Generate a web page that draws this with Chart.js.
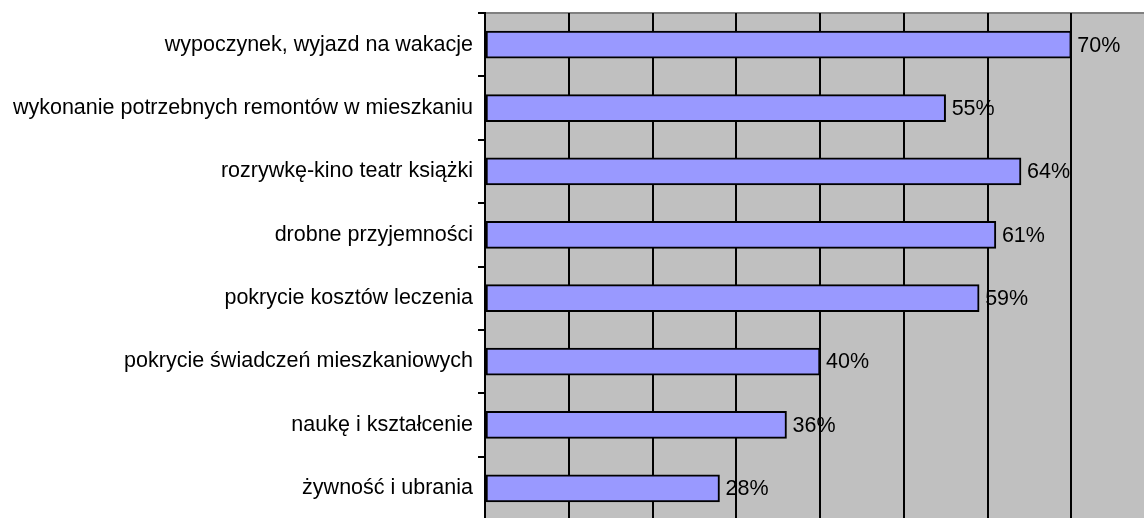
<!DOCTYPE html>
<html>
<head>
<meta charset="utf-8">
<script src="https://cdn.jsdelivr.net/npm/chart.js@4"></script>
<style>
html,body{margin:0;padding:0;background:#fff;overflow:hidden;}
canvas{display:block;}
</style>
</head>
<body>
<canvas id="chart" width="1160" height="525" style="width:1160px;height:525px"></canvas>
<script>
const categories = [
"wypoczynek, wyjazd na wakacje",
"wykonanie potrzebnych remontów w mieszkaniu",
"rozrywkę-kino teatr książki",
"drobne przyjemności",
"pokrycie kosztów leczenia",
"pokrycie świadczeń mieszkaniowych",
"naukę i kształcenie",
"żywność i ubrania"
];
const values = [70,55,64,61,59,40,36,28];
const xTicks = [0,10,20,30,40,50,60,70,80];

const FONT = "'Liberation Sans', Arial, sans-serif";

// gray plot background with thin border
const plotBg = {
id:"plotBg",
beforeDraw(chart){
const {ctx, chartArea:a} = chart;
ctx.save();
ctx.fillStyle = "#c0c0c0";
ctx.fillRect(a.left, a.top, a.right-a.left, a.bottom-a.top);
ctx.strokeStyle = "#808080";
ctx.lineWidth = 2;
ctx.strokeRect(a.left, a.top, a.right-a.left, a.bottom-a.top);
ctx.restore();
}
};

// value labels at bar ends
const barLabels = {
id:"barLabels",
afterDatasetsDraw(chart){
const ctx = chart.ctx;
const meta = chart.getDatasetMeta(0);
ctx.save();
ctx.font = "21.5px " + FONT;
ctx.fillStyle = "#000";
ctx.textAlign = "left";
ctx.textBaseline = "middle";
meta.data.forEach((bar,i)=>{
ctx.fillText(values[i] + "%", bar.x + 6, bar.y + 1);
});
ctx.restore();
}
};

new Chart(document.getElementById("chart"),{
type:"bar",
data:{
labels:categories,
datasets:[{
data:values,
backgroundColor:"#9999ff",
borderColor:"#000",
borderWidth:2,
borderSkipped:false,
barThickness:27
}]
},
options:{
indexAxis:"y",
responsive:false,
animation:false,
layout:{padding:{top:13,bottom:5,right:5,left:0}},
plugins:{legend:{display:false},tooltip:{enabled:false}},
scales:{
x:{
min:0,
max:80,
afterBuildTicks(scale){ scale.ticks = xTicks.map(v=>({value:v})); },
afterFit(scale){ scale.height = 0; scale.paddingLeft = 0; scale.paddingRight = 0; },
ticks:{display:false},
grid:{color:"#000",lineWidth:2,drawTicks:false,tickLength:0},
border:{display:false}
},
y:{
afterFit(scale){ scale.width = 485; scale.paddingTop = 0; scale.paddingBottom = 0; },
ticks:{
color:"#000",
padding:5,
font:{family:FONT,size:21.5}
},
grid:{offset:true,drawOnChartArea:false,drawTicks:true,tickLength:7,color:"#000",lineWidth:2},
border:{display:true,color:"#000",width:2}
}
}
},
plugins:[plotBg,barLabels]
});
</script>
</body>
</html>
